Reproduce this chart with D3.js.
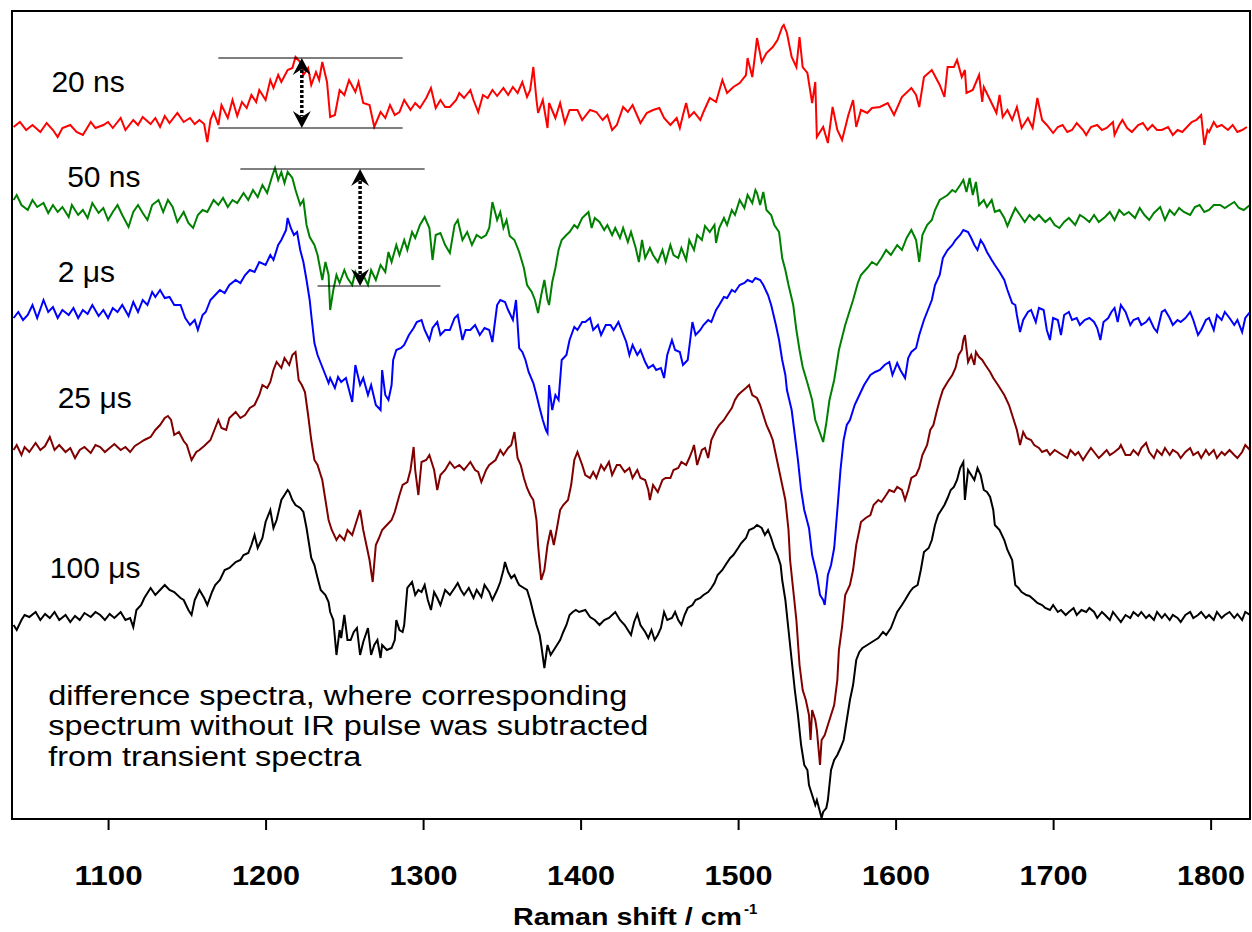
<!DOCTYPE html>
<html>
<head>
<meta charset="utf-8">
<script src="https://cdn.jsdelivr.net/npm/d3@7"></script>
<style>
  html, body { margin: 0; padding: 0; background: #fff; }
  svg { display: block; }
  text { font-family: "Liberation Sans", Arial, Helvetica, sans-serif; }
</style>
</head>
<body>
<svg id="chart" width="1252" height="932"></svg>
<script>
// ---------------- data (Raman shift in cm^-1, difference intensity in arbitrary units) ----------------
const xTicks = [1100, 1200, 1300, 1400, 1500, 1600, 1700, 1800];
const seriesNames = ["20 ns", "50 ns", "2 \u03bcs", "25 \u03bcs", "100 \u03bcs"];
const seriesColors = ["#ff0000", "#008000", "#0000ff", "#800000", "#000000"];
const seriesOffsets = [691, 611, 506, 369, 202];
const labelPositions = [[1064, 727], [1074, 632], [1068, 537], [1068, 411], [1063, 241]];

const spectrum20ns = [[1040,1],[1044,6],[1048,-2],[1052,3],[1057,-4],[1061,5],[1065,-2],[1068,-9],[1071,0],[1076,3],[1080,-4],[1084,-7],[1089,6],[1092,0],[1097,3],[1100,6],[1103,0],[1108,10],[1111,-2],[1116,8],[1119,3],[1122,11],[1127,4],[1130,10],[1133,1],[1136,12],[1139,5],[1144,15],[1148,6],[1152,10],[1155,4],[1158,8],[1161,4],[1163,-14],[1165,8],[1167,16],[1170,3],[1172,23],[1176,10],[1179,28],[1182,12],[1185,26],[1188,20],[1191,33],[1194,26],[1196,38],[1200,28],[1203,48],[1205,40],[1208,53],[1210,46],[1214,58],[1217,60],[1219,71],[1222,66],[1224,53],[1227,60],[1229,43],[1232,56],[1234,48],[1236,66],[1239,46],[1241,11],[1244,13],[1247,38],[1250,33],[1253,48],[1257,36],[1259,46],[1262,25],[1266,23],[1269,1],[1273,16],[1276,10],[1279,23],[1282,13],[1285,16],[1288,28],[1292,18],[1295,25],[1298,20],[1302,30],[1305,40],[1308,20],[1311,28],[1314,21],[1317,21],[1321,28],[1323,35],[1326,30],[1330,38],[1332,28],[1335,16],[1338,33],[1341,30],[1344,38],[1347,32],[1351,40],[1354,33],[1357,41],[1360,35],[1363,46],[1366,31],[1368,38],[1370,61],[1372,28],[1373,15],[1376,28],[1379,0],[1380,25],[1384,10],[1387,25],[1390,5],[1393,18],[1398,18],[1401,8],[1406,18],[1410,16],[1414,8],[1417,13],[1420,-2],[1423,3],[1427,21],[1430,16],[1433,23],[1438,5],[1442,15],[1446,18],[1450,20],[1453,10],[1457,3],[1461,10],[1463,0],[1465,13],[1467,25],[1469,11],[1472,16],[1476,8],[1478,16],[1482,30],[1486,26],[1490,48],[1493,35],[1497,41],[1501,45],[1505,53],[1506,70],[1509,51],[1511,76],[1512,90],[1515,66],[1518,75],[1522,81],[1525,88],[1528,101],[1529,103],[1531,95],[1534,71],[1537,61],[1539,91],[1541,61],[1544,55],[1547,25],[1549,46],[1550,-9],[1554,1],[1557,-15],[1560,21],[1563,-2],[1566,-12],[1570,13],[1573,28],[1575,1],[1578,18],[1582,15],[1585,20],[1590,21],[1595,25],[1599,13],[1604,31],[1610,40],[1613,33],[1615,21],[1618,51],[1623,58],[1628,43],[1631,31],[1633,61],[1637,61],[1639,68],[1642,51],[1644,58],[1645,35],[1649,38],[1653,53],[1655,26],[1656,41],[1660,28],[1664,15],[1666,33],[1668,11],[1671,18],[1674,8],[1677,21],[1680,0],[1684,10],[1687,0],[1690,30],[1693,8],[1696,3],[1700,-5],[1703,1],[1706,3],[1709,-4],[1712,-2],[1715,5],[1719,-2],[1721,-7],[1724,1],[1728,3],[1731,-2],[1734,0],[1738,6],[1739,-7],[1742,3],[1744,8],[1747,0],[1750,-4],[1754,3],[1757,5],[1760,-2],[1763,3],[1766,-2],[1769,-2],[1773,1],[1776,-7],[1779,-2],[1782,-4],[1785,1],[1788,6],[1791,8],[1794,13],[1796,-17],[1798,-2],[1799,-4],[1802,6],[1804,1],[1807,3],[1811,-2],[1814,3],[1817,-4],[1820,-2],[1823,1]];

const spectrum50ns = [[1040,8],[1042,13],[1045,3],[1049,-2],[1052,8],[1055,1],[1059,5],[1062,-5],[1065,3],[1068,-4],[1071,1],[1075,-9],[1077,3],[1081,-7],[1084,-2],[1087,-10],[1090,5],[1094,-5],[1097,0],[1100,-12],[1103,-4],[1106,3],[1109,-7],[1113,-19],[1116,-4],[1119,3],[1122,-5],[1125,-12],[1128,3],[1132,8],[1135,-4],[1138,8],[1141,1],[1144,-14],[1148,-4],[1151,-15],[1154,-20],[1157,-7],[1160,-2],[1163,-4],[1167,8],[1170,3],[1173,10],[1176,1],[1179,8],[1182,5],[1186,15],[1189,8],[1192,18],[1195,11],[1198,23],[1201,15],[1204,31],[1206,40],[1208,28],[1210,36],[1212,25],[1214,36],[1217,30],[1219,18],[1222,3],[1224,8],[1226,-17],[1228,-29],[1231,-37],[1233,-47],[1236,-72],[1238,-54],[1240,-67],[1241,-102],[1243,-82],[1245,-67],[1247,-75],[1250,-62],[1252,-70],[1255,-77],[1257,-64],[1260,-74],[1262,-67],[1265,-77],[1267,-62],[1270,-72],[1273,-57],[1276,-64],[1278,-44],[1280,-54],[1283,-37],[1285,-47],[1288,-32],[1290,-42],[1293,-24],[1295,-30],[1298,-17],[1301,-9],[1304,-20],[1306,-52],[1308,-27],[1311,-25],[1314,-37],[1317,-45],[1320,-17],[1322,-12],[1325,-32],[1328,-24],[1331,-37],[1334,-27],[1337,-30],[1340,-27],[1342,-20],[1344,6],[1347,-12],[1349,-4],[1351,-20],[1353,-12],[1355,-28],[1358,-32],[1361,-44],[1364,-60],[1366,-77],[1369,-84],[1371,-92],[1373,-105],[1375,-87],[1377,-72],[1379,-92],[1380,-97],[1382,-74],[1384,-60],[1386,-42],[1388,-32],[1391,-27],[1393,-24],[1396,-17],[1398,-20],[1401,-10],[1403,-7],[1405,-4],[1407,-20],[1409,-10],[1412,-14],[1415,-22],[1417,-17],[1420,-27],[1422,-20],[1425,-30],[1427,-20],[1430,-34],[1432,-24],[1435,-40],[1437,-54],[1439,-32],[1441,-50],[1444,-40],[1446,-47],[1449,-54],[1452,-42],[1454,-54],[1457,-37],[1459,-47],[1462,-50],[1464,-40],[1467,-52],[1469,-32],[1472,-42],[1474,-27],[1477,-32],[1479,-18],[1482,-24],[1485,-17],[1486,-35],[1488,-20],[1491,-10],[1493,-17],[1496,-2],[1498,-7],[1501,8],[1504,0],[1506,13],[1509,5],[1511,18],[1512,15],[1514,3],[1516,16],[1518,-2],[1521,-7],[1523,-17],[1526,-24],[1528,-50],[1530,-62],[1532,-77],[1535,-97],[1537,-122],[1539,-142],[1541,-159],[1544,-175],[1547,-192],[1549,-212],[1552,-225],[1554,-234],[1556,-215],[1558,-192],[1561,-172],[1564,-142],[1568,-117],[1571,-102],[1573,-92],[1576,-75],[1578,-67],[1582,-60],[1585,-54],[1588,-57],[1591,-50],[1594,-42],[1597,-47],[1601,-37],[1604,-42],[1607,-30],[1610,-22],[1613,-32],[1615,-54],[1617,-27],[1620,-17],[1623,-12],[1625,-2],[1628,8],[1630,10],[1633,13],[1636,18],[1638,16],[1641,23],[1643,28],[1645,16],[1647,30],[1649,13],[1651,26],[1653,3],[1656,8],[1658,1],[1661,8],[1663,-4],[1666,-2],[1669,-10],[1671,-18],[1674,-7],[1676,0],[1679,-7],[1682,-14],[1685,-7],[1688,-12],[1691,-7],[1695,-14],[1698,-10],[1701,-17],[1704,-20],[1707,-14],[1710,-10],[1714,-17],[1717,-7],[1720,-10],[1723,-14],[1726,-7],[1729,-14],[1733,-9],[1736,-4],[1739,-12],[1742,-2],[1745,-7],[1748,-4],[1752,-10],[1755,0],[1758,-7],[1761,-12],[1764,-5],[1768,1],[1771,-12],[1774,-2],[1777,-7],[1780,0],[1783,-4],[1787,-7],[1790,1],[1793,3],[1796,-4],[1799,-2],[1802,3],[1806,3],[1809,0],[1812,3],[1815,6],[1818,0],[1821,-2],[1825,3]];

const spectrum2us = [[1040,-5],[1043,1],[1046,-7],[1049,-2],[1052,8],[1055,-5],[1059,13],[1062,1],[1065,6],[1068,-5],[1071,3],[1075,-2],[1078,5],[1081,-5],[1084,3],[1087,-1],[1090,8],[1094,-3],[1097,3],[1100,-5],[1103,5],[1106,1],[1109,8],[1113,-3],[1116,11],[1119,1],[1122,13],[1125,8],[1128,21],[1130,16],[1133,23],[1136,15],[1139,16],[1142,8],[1146,8],[1149,-5],[1152,-12],[1155,-7],[1157,-17],[1160,-2],[1162,1],[1165,13],[1168,18],[1171,23],[1174,20],[1177,28],[1181,33],[1184,30],[1187,38],[1190,43],[1193,41],[1196,51],[1200,48],[1203,58],[1205,53],[1208,68],[1210,73],[1213,83],[1214,95],[1216,85],[1218,78],[1220,81],[1222,63],[1224,51],[1226,33],[1228,13],[1229,-2],[1231,-30],[1233,-42],[1235,-50],[1238,-62],[1240,-70],[1241,-65],[1244,-75],[1246,-64],[1248,-69],[1251,-65],[1253,-77],[1255,-89],[1257,-52],[1260,-72],[1262,-65],[1265,-82],[1267,-72],[1270,-92],[1273,-97],[1274,-57],[1276,-82],[1278,-87],[1280,-72],[1281,-47],[1283,-37],[1286,-35],[1288,-32],[1291,-22],[1294,-15],[1296,-9],[1299,-7],[1301,-17],[1304,-27],[1306,-15],[1309,-9],[1311,-22],[1314,-17],[1317,-17],[1320,-5],[1322,-2],[1325,-27],[1327,-17],[1330,-17],[1333,-12],[1336,-22],[1339,-15],[1342,-17],[1344,-29],[1347,8],[1349,13],[1352,11],[1354,3],[1357,-7],[1359,13],[1361,-35],[1363,-39],[1365,-47],[1367,-59],[1370,-70],[1372,-82],[1374,-95],[1376,-107],[1378,-117],[1379,-120],[1380,-72],[1382,-97],[1384,-82],[1386,-87],[1388,-47],[1391,-42],[1393,-27],[1396,-14],[1398,-17],[1401,-9],[1403,-9],[1406,-5],[1408,-17],[1411,-12],[1413,-22],[1416,-12],[1419,-12],[1421,-17],[1424,-9],[1426,-17],[1429,-29],[1431,-42],[1433,-32],[1436,-42],[1438,-37],[1441,-49],[1443,-55],[1446,-52],[1448,-57],[1451,-55],[1453,-65],[1455,-42],[1458,-27],[1460,-37],[1463,-39],[1465,-52],[1468,-47],[1471,-9],[1473,-22],[1476,-17],[1478,-12],[1481,-7],[1483,-9],[1486,3],[1488,8],[1491,16],[1493,15],[1496,23],[1498,21],[1501,28],[1504,30],[1506,33],[1509,31],[1511,35],[1514,33],[1516,28],[1519,18],[1521,8],[1524,-12],[1526,-27],[1528,-47],[1530,-62],[1531,-77],[1534,-97],[1536,-122],[1538,-147],[1540,-177],[1542,-197],[1545,-215],[1547,-242],[1550,-262],[1552,-282],[1554,-287],[1555,-292],[1557,-262],[1559,-252],[1561,-235],[1563,-197],[1565,-157],[1567,-127],[1569,-112],[1571,-107],[1574,-92],[1577,-82],[1580,-72],[1584,-62],[1587,-59],[1590,-57],[1593,-52],[1596,-49],[1598,-62],[1601,-50],[1603,-57],[1606,-65],[1608,-45],[1610,-39],[1613,-35],[1615,-22],[1618,-7],[1620,1],[1623,13],[1625,28],[1628,38],[1630,55],[1633,63],[1636,68],[1638,73],[1641,78],[1643,83],[1646,81],[1648,75],[1650,68],[1652,63],[1654,73],[1656,68],[1658,61],[1661,53],[1663,48],[1666,41],[1669,33],[1671,23],[1674,10],[1676,8],[1677,-2],[1679,-19],[1681,-7],[1684,1],[1686,3],[1689,-9],[1691,5],[1694,3],[1696,-17],[1698,-27],[1700,-5],[1703,-7],[1705,-22],[1707,-2],[1710,1],[1712,-7],[1715,-5],[1717,-12],[1720,-7],[1723,-5],[1726,-9],[1728,-15],[1730,-27],[1732,-9],[1735,-5],[1737,1],[1739,5],[1741,-9],[1743,8],[1746,1],[1749,-12],[1751,-7],[1754,-5],[1756,-12],[1759,-9],[1761,-5],[1764,-15],[1766,-19],[1769,1],[1771,3],[1774,-5],[1776,-12],[1779,-7],[1781,-9],[1784,-5],[1787,1],[1789,-7],[1792,-22],[1794,-17],[1797,-7],[1799,-5],[1802,-17],[1804,-2],[1807,-7],[1809,1],[1812,-5],[1815,-12],[1817,-7],[1820,-19],[1822,-5],[1825,1]];

const spectrum25us = [[1040,0],[1042,5],[1045,-5],[1047,3],[1050,-2],[1054,7],[1057,0],[1060,4],[1063,13],[1066,0],[1069,5],[1073,-2],[1076,2],[1079,-8],[1082,0],[1085,3],[1089,-3],[1092,5],[1095,3],[1098,-2],[1101,2],[1104,6],[1108,0],[1111,3],[1114,-2],[1117,4],[1120,7],[1123,10],[1127,13],[1130,20],[1133,25],[1136,32],[1138,34],[1140,30],[1142,15],[1145,18],[1148,9],[1150,5],[1153,-10],[1156,-2],[1158,0],[1161,4],[1165,10],[1167,18],[1170,30],[1172,22],[1175,20],[1177,32],[1181,38],[1184,32],[1187,35],[1190,42],[1193,45],[1196,55],[1198,65],[1201,62],[1203,68],[1205,80],[1207,88],[1210,82],[1212,92],[1215,85],[1217,95],[1219,98],[1221,70],[1223,65],[1225,58],[1227,35],[1229,10],[1231,-10],[1233,-15],[1234,-20],[1236,-30],[1238,-50],[1240,-70],[1242,-80],[1245,-90],[1247,-85],[1250,-90],[1252,-80],[1255,-85],[1257,-75],[1260,-60],[1262,-80],[1264,-95],[1266,-110],[1268,-132],[1270,-95],[1272,-88],[1274,-80],[1277,-75],[1280,-70],[1282,-62],[1285,-45],[1287,-35],[1290,-32],[1292,-20],[1294,3],[1295,-20],[1297,-45],[1299,-12],[1302,-10],[1304,-5],[1307,-20],[1309,-40],[1311,-25],[1314,-20],[1317,-12],[1320,-18],[1323,-15],[1326,-20],[1330,-12],[1333,-20],[1335,-22],[1337,-32],[1340,-20],[1342,-15],[1346,-10],[1349,0],[1351,-5],[1354,2],[1356,5],[1358,18],[1360,-8],[1362,-15],[1364,-28],[1366,-38],[1368,-45],[1370,-50],[1372,-70],[1373,-95],[1375,-130],[1377,-120],[1379,-95],[1381,-80],[1383,-95],[1385,-78],[1387,-60],[1389,-55],[1392,-50],[1394,-35],[1396,-10],[1398,-2],[1401,-15],[1403,-25],[1406,-28],[1408,-22],[1410,-28],[1413,-15],[1415,-20],[1418,-12],[1420,-25],[1423,-15],[1425,-15],[1428,-22],[1431,-18],[1433,-28],[1436,-20],[1438,-28],[1441,-30],[1443,-40],[1444,-50],[1446,-35],[1449,-42],[1452,-30],[1454,-28],[1457,-28],[1459,-20],[1462,-18],[1464,-12],[1467,-15],[1469,-8],[1471,0],[1472,5],[1474,-15],[1477,0],[1479,2],[1481,-8],[1483,10],[1486,20],[1488,25],[1491,30],[1493,35],[1496,42],[1498,50],[1500,55],[1502,58],[1505,62],[1507,65],[1509,55],[1512,52],[1514,45],[1516,35],[1518,25],[1520,18],[1522,10],[1524,-5],[1526,-20],[1528,-35],[1530,-50],[1532,-80],[1533,-110],[1535,-140],[1537,-170],[1539,-215],[1541,-240],[1543,-250],[1545,-265],[1546,-290],[1547,-260],[1549,-270],[1550,-280],[1552,-315],[1553,-290],[1555,-285],[1557,-275],[1559,-265],[1561,-255],[1563,-230],[1564,-200],[1566,-177],[1568,-145],[1571,-135],[1573,-120],[1575,-95],[1577,-80],[1578,-72],[1581,-68],[1584,-65],[1586,-55],[1589,-50],[1591,-52],[1594,-45],[1596,-40],[1599,-42],[1601,-37],[1604,-40],[1606,-50],[1608,-40],[1610,-28],[1613,-25],[1615,-18],[1617,-5],[1620,5],[1622,20],[1624,25],[1626,38],[1628,50],[1630,60],[1633,68],[1636,75],[1638,82],[1640,95],[1642,100],[1643,110],[1644,115],[1646,88],[1648,95],[1650,85],[1651,98],[1653,93],[1655,90],[1657,85],[1660,78],[1662,72],[1665,65],[1667,60],[1669,55],[1672,45],[1674,35],[1677,20],[1679,5],[1681,18],[1683,12],[1686,10],[1688,5],[1691,2],[1693,-2],[1696,0],[1698,-5],[1701,0],[1703,-2],[1706,-5],[1709,-8],[1711,0],[1714,-5],[1716,-2],[1719,-10],[1721,-5],[1724,2],[1726,-2],[1729,-8],[1731,-5],[1734,0],[1736,-5],[1739,-2],[1742,2],[1743,5],[1746,-5],[1749,-5],[1751,0],[1754,-5],[1756,2],[1759,7],[1761,-2],[1764,-8],[1766,0],[1769,-5],[1771,2],[1774,-5],[1776,0],[1779,-3],[1781,-8],[1784,-2],[1787,2],[1789,-5],[1792,-2],[1794,-8],[1797,0],[1799,-5],[1802,0],[1804,-8],[1807,-2],[1809,-5],[1812,0],[1815,-5],[1817,-8],[1820,-2],[1822,5],[1825,0]];

const spectrum100us = [[1040,-8],[1042,-13],[1045,-3],[1047,2],[1050,0],[1054,5],[1057,-3],[1060,3],[1063,-1],[1066,5],[1069,-3],[1073,2],[1076,-5],[1079,1],[1082,-3],[1085,4],[1089,0],[1092,5],[1095,2],[1098,-3],[1101,3],[1104,-1],[1108,5],[1111,-3],[1114,-1],[1116,-10],[1118,7],[1121,12],[1123,19],[1127,29],[1130,22],[1133,27],[1136,32],[1139,27],[1142,25],[1146,19],[1148,17],[1151,7],[1153,2],[1155,17],[1158,27],[1161,19],[1163,12],[1166,25],[1168,32],[1171,37],[1174,47],[1177,49],[1181,55],[1184,57],[1186,62],[1189,64],[1191,72],[1193,82],[1195,69],[1198,79],[1200,95],[1203,107],[1205,89],[1207,97],[1210,117],[1212,122],[1214,127],[1215,125],[1217,117],[1219,112],[1222,109],[1224,105],[1226,89],[1228,69],[1229,59],[1231,52],[1233,39],[1235,27],[1238,22],[1240,15],[1241,5],[1243,-3],[1245,-38],[1247,-13],[1248,-21],[1250,2],[1252,-23],[1254,-23],[1256,-15],[1258,-11],[1260,-38],[1262,-25],[1265,-11],[1267,-38],[1269,-28],[1271,-23],[1273,-41],[1274,-28],[1277,-33],[1280,-31],[1282,-23],[1283,-3],[1285,-13],[1287,-15],[1288,-8],[1290,29],[1293,35],[1295,22],[1297,27],[1299,25],[1301,32],[1303,17],[1305,7],[1307,25],[1309,19],[1311,12],[1313,22],[1314,27],[1317,22],[1320,29],[1322,34],[1324,27],[1326,22],[1329,29],[1332,19],[1334,27],[1337,20],[1339,32],[1342,25],[1344,17],[1347,27],[1349,35],[1351,47],[1352,55],[1354,45],[1356,39],[1358,42],[1360,35],[1361,32],[1364,29],[1366,27],[1368,17],[1370,4],[1372,-8],[1374,-18],[1375,-28],[1377,-51],[1379,-28],[1381,-38],[1383,-33],[1385,-28],[1387,-23],[1389,-15],[1391,-8],[1393,2],[1395,5],[1397,7],[1399,5],[1403,7],[1406,0],[1409,-3],[1412,-8],[1415,-3],[1418,-1],[1422,5],[1425,-3],[1428,-8],[1430,-13],[1432,-18],[1434,-5],[1436,3],[1438,-8],[1441,-15],[1443,-21],[1445,-13],[1447,-23],[1449,-18],[1451,-11],[1453,5],[1455,-3],[1458,-1],[1460,5],[1462,-3],[1464,-8],[1466,2],[1468,9],[1471,12],[1473,17],[1476,19],[1478,22],[1481,25],[1483,29],[1485,34],[1487,42],[1490,47],[1492,52],[1495,59],[1497,62],[1500,69],[1502,74],[1505,79],[1507,87],[1510,89],[1512,92],[1515,89],[1517,82],[1519,87],[1521,79],[1523,69],[1525,62],[1527,52],[1528,37],[1530,17],[1532,-13],[1534,-43],[1536,-73],[1538,-98],[1540,-128],[1542,-148],[1544,-153],[1545,-168],[1547,-178],[1549,-188],[1550,-183],[1552,-195],[1553,-201],[1554,-195],[1556,-191],[1557,-183],[1559,-153],[1561,-143],[1563,-138],[1565,-131],[1567,-123],[1569,-103],[1571,-83],[1573,-68],[1575,-43],[1577,-35],[1579,-31],[1582,-28],[1584,-26],[1587,-23],[1589,-21],[1592,-15],[1594,-18],[1597,-11],[1599,-3],[1601,5],[1604,12],[1606,17],[1609,25],[1611,29],[1614,32],[1616,47],[1618,65],[1621,69],[1623,77],[1625,92],[1627,102],[1629,107],[1631,112],[1633,119],[1635,127],[1637,130],[1639,137],[1641,149],[1643,155],[1644,117],[1646,147],[1648,142],[1650,137],[1652,149],[1654,142],[1656,127],[1658,125],[1660,120],[1662,107],[1663,92],[1666,87],[1669,77],[1671,67],[1674,57],[1676,32],[1678,29],[1680,25],[1683,22],[1685,21],[1688,17],[1690,14],[1693,12],[1695,9],[1698,7],[1700,12],[1703,5],[1705,7],[1708,2],[1710,5],[1713,9],[1715,2],[1718,7],[1721,5],[1723,9],[1726,5],[1728,-1],[1731,5],[1733,2],[1736,-3],[1738,5],[1741,-1],[1743,-5],[1746,2],[1749,-1],[1751,5],[1754,1],[1756,5],[1759,-1],[1761,2],[1764,-3],[1766,5],[1769,-1],[1771,3],[1774,-3],[1776,2],[1779,-1],[1781,-5],[1784,2],[1787,5],[1789,-1],[1792,2],[1794,5],[1797,-1],[1799,2],[1802,-3],[1804,5],[1807,-1],[1809,2],[1812,5],[1815,-1],[1817,3],[1820,-3],[1822,5],[1825,2]];

const allSpectra = [spectrum20ns, spectrum50ns, spectrum2us, spectrum25us, spectrum100us];

// annotation: guide lines [x1, x2, level] and double arrows [x, top, bottom] in data units
const guideLines = [[1170, 1287, 761], [1170, 1287, 691], [1184, 1301, 650], [1233, 1311, 533]];
const doubleArrows = [[1223, 761, 691], [1260, 650, 533]];
const noteLines = ["difference spectra, where corresponding", "spectrum without IR pulse was subtracted", "from transient spectra"];
const noteLevels = [114, 84, 53];
const noteWidths = [579, 600, 313];
const noteX = 1062;

// ---------------- layout ----------------
const W = 1252, H = 932;
const plot = { left: 12, top: 11, right: 1250, bottom: 819 };
const svg = d3.select("#chart");

const x = d3.scaleLinear().domain([1039, 1825]).range([plot.left, plot.right]);
const y = d3.scaleLinear().domain([0, 808]).range([plot.bottom, plot.top]);

svg.append("rect").attr("width", W).attr("height", H).attr("fill", "#fff");

svg.append("defs").append("clipPath").attr("id", "clip")
  .append("rect").attr("x", plot.left).attr("y", plot.top)
  .attr("width", plot.right - plot.left).attr("height", plot.bottom - plot.top);

// spectra
const gLines = svg.append("g").attr("clip-path", "url(#clip)");
allSpectra.forEach((data, i) => {
  const line = d3.line()
    .x(d => x(d[0]))
    .y(d => y(seriesOffsets[i] + d[1]))
    .curve(d3.curveLinear);
  gLines.append("path")
    .datum(data)
    .attr("d", line)
    .attr("fill", "none")
    .attr("stroke", seriesColors[i])
    .attr("stroke-width", 2)
    .attr("stroke-linejoin", "miter");
});

// guide lines
svg.append("g").selectAll("line").data(guideLines).join("line")
  .attr("x1", d => x(d[0])).attr("x2", d => x(d[1]))
  .attr("y1", d => y(d[2])).attr("y2", d => y(d[2]))
  .attr("stroke", "#000").attr("stroke-width", 1.2);

// double arrows
const gArr = svg.append("g");
doubleArrows.forEach(a => {
  const ax = x(a[0]), yt = y(a[1]), yb = y(a[2]);
  gArr.append("line")
    .attr("x1", ax).attr("x2", ax)
    .attr("y1", yt + 12).attr("y2", yb - 12)
    .attr("stroke", "#000").attr("stroke-width", 3.5)
    .attr("stroke-dasharray", "3,2");
  const head = (ty, dir) => `M${ax},${ty} L${ax + 9},${ty + dir * 17} L${ax},${ty + dir * 11} L${ax - 9},${ty + dir * 17} Z`;
  gArr.append("path").attr("d", head(yt, 1)).attr("fill", "#000");
  gArr.append("path").attr("d", head(yb, -1)).attr("fill", "#000");
});

// series labels
svg.append("g").selectAll("text").data(seriesNames).join("text")
  .attr("x", (d, i) => x(labelPositions[i][0]))
  .attr("y", (d, i) => y(labelPositions[i][1]))
  .attr("font-size", 30)
  .attr("fill", "#000")
  .text(d => d);

// note text
svg.append("g").selectAll("text").data(noteLines).join("text")
  .attr("x", x(noteX))
  .attr("y", (d, i) => y(noteLevels[i]))
  .attr("font-size", 27)
  .attr("textLength", (d, i) => noteWidths[i])
  .attr("lengthAdjust", "spacingAndGlyphs")
  .attr("fill", "#000")
  .text(d => d);

// frame
svg.append("rect")
  .attr("x", plot.left).attr("y", plot.top)
  .attr("width", plot.right - plot.left).attr("height", plot.bottom - plot.top)
  .attr("fill", "none").attr("stroke", "#000").attr("stroke-width", 2);

// x axis
const axis = d3.axisBottom(x).tickValues(xTicks).tickSize(10).tickFormat(d3.format("d"));
const gAxis = svg.append("g").attr("transform", `translate(0,${plot.bottom + 1})`).call(axis);
gAxis.select(".domain").remove();
gAxis.selectAll(".tick line").attr("stroke", "#000").attr("stroke-width", 2);
gAxis.selectAll(".tick text")
  .attr("y", 65).attr("dy", null)
  .attr("fill", "#000")
  .attr("font-size", 28)
  .attr("font-weight", "bold")
  .attr("font-family", "'Liberation Sans', Arial, sans-serif")
  .attr("textLength", 68)
  .attr("lengthAdjust", "spacingAndGlyphs");

// axis title
svg.append("text")
  .attr("x", 513).attr("y", 925)
  .attr("font-size", 24).attr("font-weight", "bold")
  .attr("textLength", 229).attr("lengthAdjust", "spacingAndGlyphs")
  .text("Raman shift / cm");
svg.append("text")
  .attr("x", 744).attr("y", 914)
  .attr("font-size", 15).attr("font-weight", "bold")
  .text("-1");
</script>
</body>
</html>
